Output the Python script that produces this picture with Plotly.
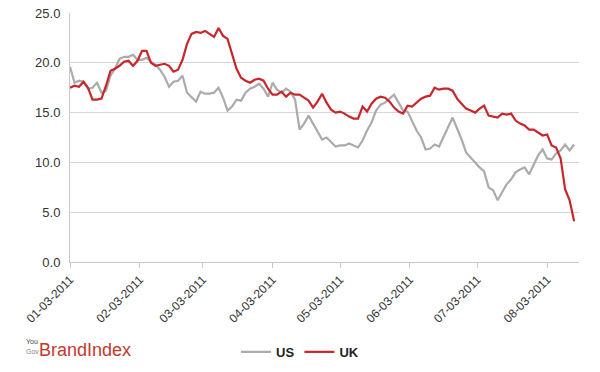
import pandas as pd
import plotly.graph_objects as go

# 2-day sampled dates starting 3 Jan 2011
dates = pd.date_range("2011-01-03", periods=113, freq="2D")

us = [19.6, 18.0, 18.2, 18.1, 17.4, 17.5, 18.0, 17.0, 17.2, 18.7,
      19.4, 20.4, 20.6, 20.6, 20.8, 20.3, 20.3, 20.5, 20.1, 19.8,
      19.3, 18.6, 17.6, 18.1, 18.2, 18.7, 17.0, 16.5, 16.1, 17.1,
      16.9, 16.9, 17.0, 17.5, 16.5, 15.2, 15.6, 16.3, 16.2, 17.0,
      17.4, 17.6, 17.9, 17.4, 16.6, 18.0, 17.3, 17.0, 17.4, 17.1,
      16.3, 13.3, 13.9, 14.7, 13.9, 13.2, 12.3, 12.5, 12.1, 11.6,
      11.7, 11.7, 11.9, 11.7, 11.5, 12.2, 13.2, 14.0, 15.2, 15.8,
      16.0, 16.4, 16.8, 16.0, 15.2, 15.1, 14.1, 13.2, 12.5, 11.3,
      11.4, 11.8, 11.6, 12.6, 13.5, 14.5, 13.4, 12.3, 11.0, 10.5,
      9.9, 9.5, 9.1, 7.5, 7.2, 6.2, 7.0, 7.8, 8.3, 9.0,
      9.3, 9.5, 8.8, 9.7, 10.7, 11.3, 10.4, 10.3, 10.9, 11.2,
      11.8, 11.2, 11.8]

uk = [17.5, 17.7, 17.6, 18.1, 17.5, 16.3, 16.3, 16.4, 17.7, 19.2,
      19.4, 19.7, 20.1, 20.2, 19.7, 20.2, 21.2, 21.2, 20.0, 19.7,
      19.8, 19.9, 19.7, 19.1, 19.3, 20.3, 21.9, 22.9, 23.1, 23.0,
      23.2, 22.9, 22.6, 23.5, 22.7, 22.4, 21.0, 19.4, 18.5, 18.2,
      18.0, 18.3, 18.4, 18.2, 17.4, 16.8, 16.8, 17.1, 16.6, 17.0,
      16.8, 16.8, 16.5, 16.2, 15.5, 16.1, 16.9, 16.0, 15.3, 15.0,
      15.1, 14.9, 14.6, 14.4, 14.4, 15.6, 15.1, 15.9, 16.4, 16.6,
      16.5, 16.1, 15.5, 15.1, 14.9, 15.7, 15.6, 16.0, 16.4, 16.6,
      16.7, 17.5, 17.3, 17.4, 17.4, 17.2, 16.4, 15.9, 15.4, 15.2,
      15.0, 15.4, 15.7, 14.7, 14.6, 14.5, 14.9, 14.8, 14.9, 14.2,
      13.9, 13.7, 13.3, 13.3, 13.0, 12.7, 12.8, 11.7, 11.5, 10.4,
      7.3, 6.2, 4.1]

tick_dates = ["2011-01-03", "2011-02-03", "2011-03-03", "2011-04-03",
              "2011-05-03", "2011-06-03", "2011-07-03", "2011-08-03"]
tick_labels = ["01-03-2011", "02-03-2011", "03-03-2011", "04-03-2011",
               "05-03-2011", "06-03-2011", "07-03-2011", "08-03-2011"]
y_ticks = [0, 5, 10, 15, 20, 25]

FONT = "Arial, Liberation Sans, sans-serif"

fig = go.Figure()
fig.add_trace(go.Scatter(x=dates, y=us, name="US", mode="lines",
                         line=dict(color="#ababab", width=2.2)))
fig.add_trace(go.Scatter(x=dates, y=uk, name="UK", mode="lines",
                         line=dict(color="#c8262b", width=2.2)))

fig.update_layout(
    width=600, height=372,
    margin=dict(l=70, r=21, t=13, b=110, autoexpand=False),
    paper_bgcolor="white", plot_bgcolor="white",
    font=dict(family=FONT, size=12, color="#333333"),
    showlegend=True,
    legend=dict(orientation="h", x=0.5, y=0.054, xref="container", yref="container",
                xanchor="center", yanchor="middle",
                font=dict(size=13, color="#222222", family=FONT, weight="bold"),
                itemwidth=30, bgcolor="rgba(0,0,0,0)"),
    xaxis=dict(type="date", range=["2011-01-03", "2011-08-17 04:00"],
               tickvals=tick_dates, ticktext=tick_labels, tickangle=-45,
               showgrid=False, showline=True, linecolor="#c8c8c8", linewidth=1,
               ticks="outside", ticklen=5, tickcolor="#c8c8c8",
               tickfont=dict(size=12, color="#333333"), zeroline=False,
               automargin=False),
    yaxis=dict(range=[0, 25], tickvals=y_ticks, tickformat=".1f",
               showgrid=True, gridcolor="#d6d6d6", gridwidth=1,
               showline=True, linecolor="#c8c8c8", linewidth=1,
               ticks="", tickfont=dict(size=13, color="#333333"),
               zeroline=False, ticklabelstandoff=6, automargin=False),
)

# YouGov BrandIndex logo (pixel positions in the 600x372 page)
fig.add_annotation(xref="paper", yref="paper", x=(24 - 70) / 509, y=(262 - 341) / 249,
                   text="You", showarrow=False, xanchor="left", yanchor="middle",
                   font=dict(size=7, color="#444444", family=FONT))
fig.add_annotation(xref="paper", yref="paper", x=(24 - 70) / 509, y=(262 - 351) / 249,
                   text="Gov", showarrow=False, xanchor="left", yanchor="middle",
                   font=dict(size=7, color="#888888", family=FONT))
fig.add_annotation(xref="paper", yref="paper", x=(37 - 70) / 509, y=(262 - 350) / 249,
                   text="BrandIndex", showarrow=False, xanchor="left", yanchor="middle",
                   font=dict(size=18, color="#c0392b",
                             family="Liberation Sans Narrow, Arial Narrow, sans-serif"))

fig.write_html("out.html", config={"displayModeBar": False},
               post_script="document.body.style.margin='0';document.body.style.overflow='hidden';")
